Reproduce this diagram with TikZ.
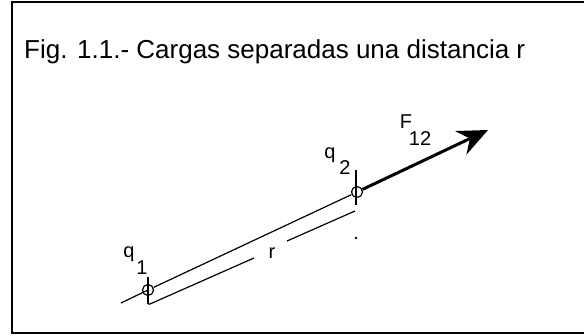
\documentclass[tikz,border=0pt]{standalone}
\usepackage{fontspec}
\setmainfont{Liberation Sans}
\usetikzlibrary{arrows.meta}
\begin{document}
\begin{tikzpicture}[x=1pt,y=-1pt,
  frameline/.style={line width=1.5pt,black},
  thinline/.style={line width=1.2pt,black},
  forceline/.style={line width=3pt,black,-{Stealth[length=30pt,width=26pt,inset=10pt]}},
  charge/.style={circle,draw,line width=1.2pt,minimum size=11pt,inner sep=0pt},
  lbl/.style={inner sep=0pt,font=\fontsize{20}{22}\selectfont},
  titletext/.style={inner sep=0pt,anchor=base west,font=\fontsize{26}{30}\selectfont}]
\useasboundingbox (0,0) rectangle (584,335);
% frame
\draw[frameline] (584,2) -- (12,2) -- (12,333) -- (584,333);
% title
\node[titletext] (title) at (24,58) {Fig. 1.1.- Cargas separadas una distancia r};
% charges
\node[charge] (q1) at (148,290) {};
\node[charge] (q2) at (357,192) {};
\coordinate (tail) at (121,303);
\coordinate (tip) at (488,130);
% extension and joining line
\draw[thinline] (tail) -- (q1.center);
\draw[thinline] (q1) -- (q2);
% ticks
\coordinate (t1a) at (148,277);
\coordinate (t1b) at (148,304);
\coordinate (t2a) at (356,170);
\coordinate (t2b) at (356,205);
\draw[thinline] (t1a) -- (t1b);
\draw[thinline] (t2a) -- (t2b);
% dimension line with r
\coordinate (d1) at (150,304);
\coordinate (d2) at (254,258);
\coordinate (d3) at (287,241);
\coordinate (d4) at (355,211);
\draw[thinline] (t1b) -- (d1) -- (d2);
\draw[thinline] (d3) -- (d4);
\node[lbl] (r) at (272,253) {r};
\fill (356,238) circle (1.3pt);
% force
\draw[forceline] (q2) -- (tip);
% labels
\node[lbl] (q1q) at (129,254) {q};
\node[lbl] (q1s) at (142,268) {1};
\node[lbl] (q2q) at (330,155) {q};
\node[lbl] (q2s) at (345,168) {2};
\node[lbl] (Fl) at (406,122) {F};
\node[lbl] (Fs) at (420,139) {12};
\end{tikzpicture}
\end{document}
